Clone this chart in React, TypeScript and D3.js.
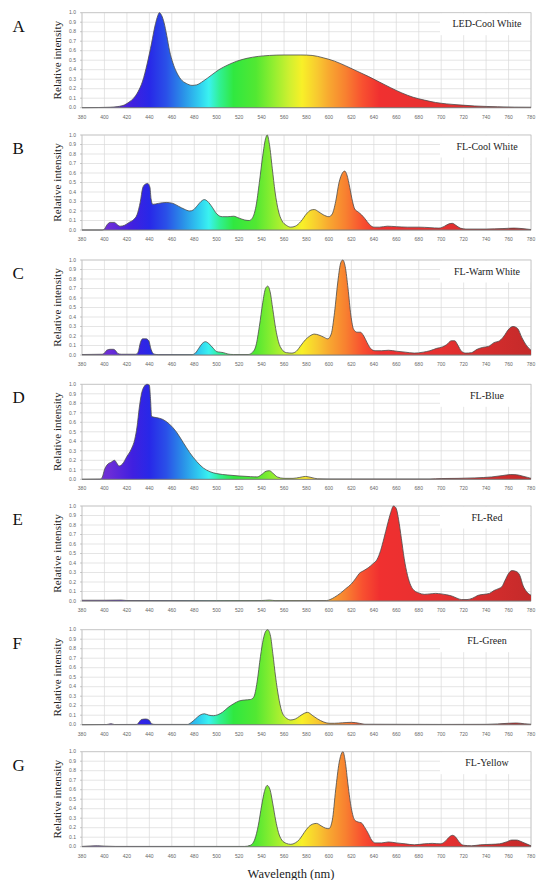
import React from 'react';
import * as d3 from 'd3';

// ---------- data ----------
const wavelengthTicks = d3.range(380, 781, 20);
const intensityTicks = d3.range(0, 11).map((i) => i / 10);

const panelLetters = ['A', 'B', 'C', 'D', 'E', 'F', 'G'];
const panelTitles = ['LED-Cool White', 'FL-Cool White', 'FL-Warm White', 'FL-Blue', 'FL-Red', 'FL-Green', 'FL-Yellow'];

const ledCoolWhite: [number, number][] = [
  [380, 0], [395, 0.002], [405, 0.005], [412, 0.012], [418, 0.03], [422, 0.06], [426, 0.1], [430, 0.17],
  [434, 0.28], [438, 0.46], [442, 0.68], [445, 0.86], [447, 0.95], [449, 1.0], [451, 0.97], [453, 0.9],
  [455.5, 0.76], [458, 0.6], [461, 0.47], [464, 0.38], [468, 0.3], [473, 0.255], [478, 0.235], [482, 0.24],
  [488, 0.28], [495, 0.34], [502, 0.4], [510, 0.45], [518, 0.49], [527, 0.52], [537, 0.54], [547, 0.55],
  [560, 0.555], [575, 0.555], [585, 0.55], [595, 0.525], [605, 0.49], [615, 0.44], [625, 0.385], [635, 0.33],
  [645, 0.27], [655, 0.21], [665, 0.155], [675, 0.11], [685, 0.08], [695, 0.055], [705, 0.04], [715, 0.03],
  [730, 0.018], [750, 0.01], [765, 0.006], [780, 0.005],
];

const flCoolWhite: [number, number][] = [
  [380, 0], [398, 0], [400, 0.01], [402, 0.05], [405, 0.08], [409, 0.08], [411, 0.06], [414, 0.04], [418, 0.05],
  [422, 0.08], [426, 0.11], [429, 0.16], [432, 0.3], [434, 0.44], [436, 0.48], [438.5, 0.49], [440.5, 0.45],
  [441.5, 0.33], [443, 0.27], [448, 0.28], [455, 0.29], [461, 0.28], [466, 0.25], [471, 0.22], [476, 0.2],
  [479, 0.21], [483, 0.26], [486, 0.3], [489, 0.32], [492, 0.3], [496, 0.24], [500, 0.17], [505, 0.14],
  [510, 0.14], [515, 0.145], [520, 0.125], [525, 0.105], [529, 0.1], [532, 0.13], [535, 0.25], [538, 0.5],
  [541, 0.78], [543.5, 0.96], [545, 1.0], [547, 0.9], [549.5, 0.65], [552, 0.4], [555, 0.2], [558, 0.1],
  [562, 0.05], [566, 0.03], [570, 0.04], [575, 0.09], [580, 0.17], [584, 0.21], [587, 0.215], [591, 0.19],
  [595, 0.16], [600, 0.14], [603, 0.17], [606, 0.3], [609, 0.5], [612, 0.6], [614, 0.62], [616, 0.58],
  [618.5, 0.45], [621, 0.3], [623, 0.22], [626, 0.19], [629, 0.16], [632, 0.12], [636, 0.06], [640, 0.03],
  [645, 0.03], [652, 0.04], [660, 0.035], [670, 0.03], [680, 0.03], [690, 0.025], [698, 0.02], [703, 0.04],
  [707, 0.065], [710, 0.07], [713, 0.05], [717, 0.02], [722, 0.01], [740, 0.01], [755, 0.015], [765, 0.02],
  [772, 0.015], [780, 0.005],
];

const flWarmWhite: [number, number][] = [
  [380, 0.005], [398, 0.008], [400, 0.02], [402, 0.05], [405, 0.06], [408, 0.06], [410, 0.045], [412, 0.015],
  [415, 0.008], [428, 0.008], [430, 0.03], [432, 0.13], [434, 0.17], [437, 0.17], [439.5, 0.15], [441.5, 0.06],
  [444, 0.01], [448, 0.004], [478, 0.004], [481, 0.02], [484, 0.07], [487, 0.12], [490, 0.14], [493, 0.12],
  [497, 0.07], [500, 0.035], [503, 0.03], [506, 0.025], [510, 0.01], [515, 0.005], [528, 0.005], [532, 0.03],
  [535, 0.1], [538, 0.3], [541, 0.55], [543.5, 0.7], [545.5, 0.725], [547.5, 0.67], [550, 0.48], [552.5, 0.28],
  [555, 0.14], [558, 0.06], [562, 0.025], [567, 0.02], [571, 0.04], [575, 0.1], [579, 0.16], [583, 0.2],
  [587, 0.22], [591, 0.21], [595, 0.19], [599, 0.17], [602, 0.22], [605, 0.45], [608, 0.78], [610.5, 0.97],
  [612.3, 1.0], [614.5, 0.93], [617, 0.7], [619.5, 0.42], [622, 0.27], [625, 0.24], [628, 0.24], [631, 0.2],
  [634, 0.13], [637, 0.07], [641, 0.045], [647, 0.045], [653, 0.05], [660, 0.04], [668, 0.03], [676, 0.02],
  [684, 0.03], [690, 0.045], [696, 0.07], [701, 0.085], [705, 0.11], [709, 0.15], [712, 0.15], [715, 0.1],
  [718, 0.04], [722, 0.02], [727, 0.025], [732, 0.06], [737, 0.08], [742, 0.09], [747, 0.13], [752, 0.15],
  [756, 0.2], [760, 0.27], [764, 0.3], [768, 0.28], [772, 0.18], [776, 0.1], [780, 0.05],
];

const flBlue: [number, number][] = [
  [380, 0], [396, 0.002], [398, 0.02], [400, 0.1], [403, 0.16], [406, 0.18], [409, 0.2], [411, 0.17],
  [413, 0.14], [416, 0.16], [420, 0.24], [424, 0.32], [427, 0.42], [429, 0.55], [431, 0.75], [433, 0.9],
  [435, 0.97], [438, 1.0], [440, 0.99], [441, 0.85], [442, 0.66], [446, 0.65], [452, 0.63], [458, 0.58],
  [464, 0.5], [470, 0.39], [476, 0.28], [482, 0.19], [488, 0.12], [494, 0.08], [500, 0.06], [510, 0.045],
  [520, 0.035], [530, 0.028], [536, 0.025], [540, 0.05], [544, 0.085], [547, 0.09], [550, 0.065], [554, 0.025],
  [560, 0.01], [568, 0.01], [574, 0.02], [579, 0.03], [584, 0.02], [590, 0.005], [600, 0.003], [690, 0.003],
  [700, 0.008], [715, 0.01], [730, 0.015], [745, 0.025], [755, 0.04], [762, 0.05], [767, 0.048], [772, 0.035],
  [777, 0.02], [780, 0.01],
];

const flRed: [number, number][] = [
  [380, 0.008], [400, 0.008], [415, 0.01], [420, 0.005], [500, 0.004], [540, 0.005], [547, 0.01], [552, 0.004],
  [598, 0.005], [601, 0.015], [605, 0.04], [610, 0.08], [615, 0.13], [620, 0.18], [624, 0.24], [627, 0.29],
  [631, 0.32], [635, 0.35], [639, 0.39], [643, 0.44], [646, 0.53], [649, 0.66], [652, 0.8], [655, 0.93],
  [657.5, 1.0], [660, 0.97], [662, 0.86], [664.5, 0.66], [667, 0.45], [670, 0.27], [673, 0.16], [676, 0.11],
  [680, 0.085], [685, 0.07], [690, 0.075], [695, 0.08], [700, 0.075], [705, 0.065], [710, 0.05], [714, 0.03],
  [718, 0.015], [723, 0.015], [728, 0.03], [733, 0.06], [738, 0.07], [743, 0.08], [747, 0.11], [751, 0.13],
  [754, 0.15], [757, 0.22], [760, 0.29], [763, 0.32], [767, 0.31], [770, 0.27], [773, 0.16], [776, 0.1],
  [780, 0.06],
];

const flGreen: [number, number][] = [
  [380, 0], [402, 0.002], [406, 0.01], [409, 0.002], [429, 0.003], [431, 0.03], [433, 0.055], [437, 0.06],
  [440, 0.045], [442, 0.01], [445, 0.003], [474, 0.003], [477, 0.02], [481, 0.06], [485, 0.1], [489, 0.115],
  [493, 0.1], [497, 0.095], [501, 0.105], [505, 0.13], [510, 0.18], [515, 0.22], [520, 0.25], [525, 0.26],
  [530, 0.265], [533, 0.29], [536, 0.45], [539, 0.72], [541.5, 0.9], [544, 0.99], [545.5, 1.0], [548, 0.93],
  [550, 0.75], [552.5, 0.5], [555, 0.3], [558, 0.14], [562, 0.07], [566, 0.05], [570, 0.06], [574, 0.09],
  [578, 0.12], [581, 0.13], [585, 0.1], [590, 0.06], [595, 0.03], [600, 0.015], [605, 0.015], [612, 0.02],
  [620, 0.025], [627, 0.015], [632, 0.005], [700, 0.003], [740, 0.004], [750, 0.008], [760, 0.015],
  [767, 0.018], [774, 0.01], [780, 0.005],
];

const flYellow: [number, number][] = [
  [380, 0.003], [388, 0.008], [394, 0.01], [400, 0.006], [410, 0.003], [525, 0.003], [530, 0.015], [534, 0.08],
  [537, 0.22], [540, 0.43], [542.5, 0.58], [545, 0.645], [547.5, 0.6], [550, 0.45], [552.5, 0.28], [555, 0.15],
  [558, 0.07], [562, 0.035], [566, 0.025], [570, 0.04], [574, 0.08], [578, 0.15], [582, 0.21], [586, 0.24],
  [589, 0.245], [593, 0.22], [597, 0.195], [600, 0.19], [603, 0.28], [606, 0.6], [609, 0.88], [611.5, 0.99],
  [612.5, 1.0], [614.5, 0.9], [617, 0.65], [620, 0.4], [623, 0.28], [626, 0.26], [629, 0.25], [632, 0.2],
  [635, 0.14], [638, 0.07], [641, 0.04], [647, 0.04], [653, 0.05], [660, 0.04], [668, 0.03], [676, 0.02],
  [685, 0.03], [692, 0.035], [699, 0.03], [703, 0.05], [707, 0.1], [710, 0.12], [713, 0.1], [716, 0.05],
  [720, 0.015], [727, 0.01], [735, 0.02], [745, 0.025], [752, 0.03], [758, 0.05], [763, 0.07], [767, 0.07],
  [772, 0.05], [776, 0.03], [780, 0.01],
];

const spectra = [ledCoolWhite, flCoolWhite, flWarmWhite, flBlue, flRed, flGreen, flYellow];

// visible-spectrum colour stops (wavelength -> colour)
const spectrumNm = [380, 405, 425, 440, 455, 470, 485, 493, 503, 515, 535, 550, 565, 576, 590, 600, 615, 630, 645, 700, 780];
const spectrumColor = [
  '#7a3cc8', '#6a2cd8', '#4020e0', '#2828e8', '#2a50e8', '#2a90e8', '#30d0f0', '#3af2f0', '#30f090', '#30e840',
  '#52e832', '#90ee30', '#d0f030', '#f8f028', '#f8c830', '#f8a830', '#f88030', '#f85030', '#f03030', '#e63030',
  '#c42a2a',
];

// ---------- layout ----------
const W = 540;
const H = 880;
const plotLeft = 82;
const plotRight = 531;
const panelTops = [12.7, 135, 260, 384.3, 506, 629.7, 751.7];
const panelH = 95;

export default function App() {
  const x = d3.scaleLinear().domain([380, 780]).range([plotLeft, plotRight]);
  const fmt = d3.format('.1f');
  const serif = "'Liberation Serif', 'Times New Roman', serif";
  const sans = "'Liberation Sans', Arial, sans-serif";

  return (
    <svg
      width={W}
      height={H}
      style={{ position: 'absolute', left: 0, top: 0, background: '#fff' }}
      xmlns="http://www.w3.org/2000/svg"
    >
      <defs>
        <linearGradient id="spectrum" gradientUnits="userSpaceOnUse" x1={x(380)} x2={x(780)} y1={0} y2={0}>
          {spectrumNm.map((nm, i) => (
            <stop key={nm} offset={(nm - 380) / 400} stopColor={spectrumColor[i]} />
          ))}
        </linearGradient>
      </defs>
      <rect width={W} height={H} fill="#fff" />
      {spectra.map((data, pi) => {
        const top = panelTops[pi];
        const y = d3.scaleLinear().domain([0, 1]).range([top + panelH, top]);
        const area = d3
          .area<[number, number]>()
          .x((d) => x(d[0]))
          .y0(y(0))
          .y1((d) => y(d[1]))
          .curve(d3.curveMonotoneX);
        const line = d3
          .line<[number, number]>()
          .x((d) => x(d[0]))
          .y((d) => y(d[1]))
          .curve(d3.curveMonotoneX);
        const boxX = 440;
        const boxH = 22;
        return (
          <g key={pi}>
            {/* grid */}
            {intensityTicks.map((t) => (
              <line key={'h' + t} x1={plotLeft} x2={plotRight} y1={y(t)} y2={y(t)} stroke="#dadada" strokeWidth={0.7} />
            ))}
            {wavelengthTicks.map((t) => (
              <line key={'v' + t} x1={x(t)} x2={x(t)} y1={top} y2={top + panelH} stroke="#dadada" strokeWidth={0.7} />
            ))}
            {/* title box */}
            <rect x={boxX} y={top + 0.5} width={plotRight - boxX - 0.5} height={boxH} fill="#fff" />
            {/* border */}
            <rect x={plotLeft} y={top} width={plotRight - plotLeft} height={panelH} fill="none" stroke="#c4c4c4" strokeWidth={0.8} />
            {/* spectrum */}
            <path d={area(data) || ''} fill="url(#spectrum)" />
            <path d={line(data) || ''} fill="none" stroke="#4a4a4a" strokeWidth={0.8} strokeLinejoin="round" />
            <line x1={plotLeft} x2={plotRight} y1={y(0)} y2={y(0)} stroke="#777" strokeWidth={0.9} />
            {/* y ticks */}
            {intensityTicks.map((t) => (
              <g key={'yt' + t}>
                <line x1={plotLeft - 2} x2={plotLeft} y1={y(t)} y2={y(t)} stroke="#aaa" strokeWidth={0.6} />
                <text x={plotLeft - 6} y={y(t)} dy="0.35em" textAnchor="end" fontSize={5} fill="#666" fontFamily={sans}>
                  {fmt(t)}
                </text>
              </g>
            ))}
            {/* x ticks */}
            {wavelengthTicks.map((t) => (
              <text key={'xt' + t} x={x(t)} y={top + panelH + 11} textAnchor="middle" fontSize={5} fill="#666" fontFamily={sans}>
                {t}
              </text>
            ))}
            {/* titles */}
            <text x={487} y={top + 14.5} textAnchor="middle" fontSize={10} fill="#222" fontFamily={serif}>
              {panelTitles[pi]}
            </text>
            <text x={12.5} y={top + 19} fontSize={17} fill="#111" fontFamily={serif}>
              {panelLetters[pi]}
            </text>
            <text
              transform={`translate(61,${top + panelH / 2}) rotate(-90)`}
              textAnchor="middle"
              fontSize={11.2}
              fill="#222"
              fontFamily={serif}
            >
              Relative intensity
            </text>
          </g>
        );
      })}
      <text x={291} y={877.5} textAnchor="middle" fontSize={12.5} fill="#222" fontFamily={serif}>
        Wavelength (nm)
      </text>
    </svg>
  );
}
